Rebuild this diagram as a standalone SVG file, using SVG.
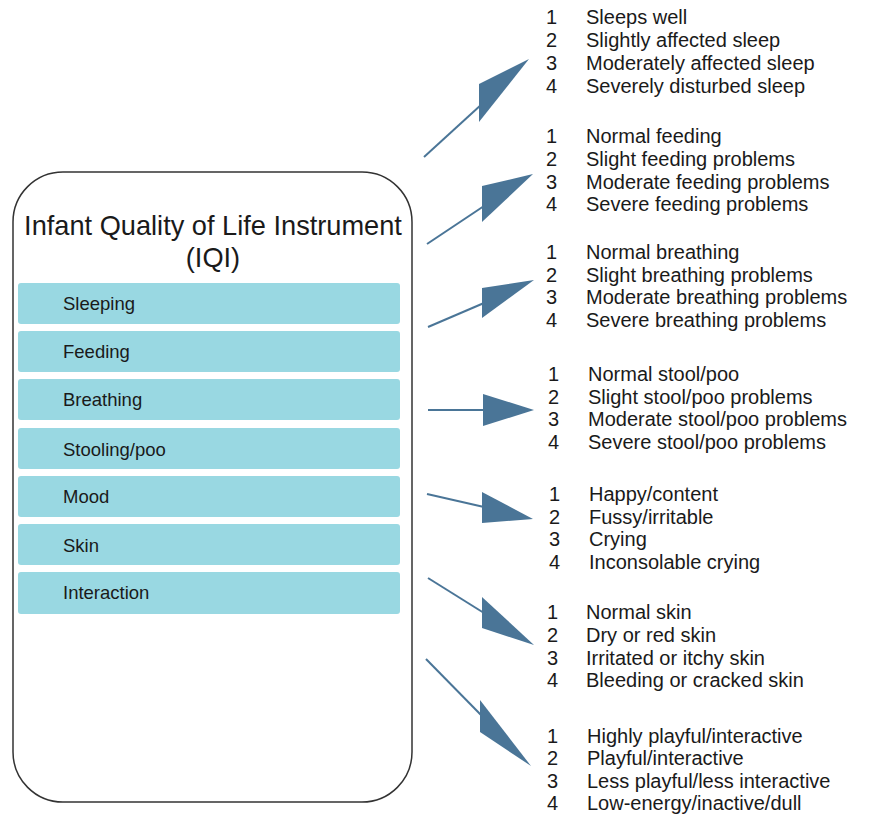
<svg xmlns="http://www.w3.org/2000/svg" width="869" height="816" viewBox="0 0 869 816">
<style>
text{font-family:"Liberation Sans",Arial,sans-serif;fill:#1a1a1a}
.t{font-size:27.2px}
.c{font-size:18.5px}
.o{font-size:20px}
.row{fill:#99d8e2}
.ln{stroke:#4a7597;stroke-width:2;fill:none}
.hd{fill:#4a7597}
</style>
<rect width="869" height="816" fill="#fff"/>
<g id="instrument">
<rect x="13" y="172" width="399" height="630" rx="50" ry="50" fill="#fff" stroke="#333" stroke-width="1.5"/>
<text class="t" x="213" y="235" text-anchor="middle">Infant Quality of Life Instrument</text>
<text class="t" x="213" y="267" text-anchor="middle">(IQI)</text>
</g>
<g id="sleeping"><rect class="row" x="18" y="283" width="382" height="41" rx="3"/><text class="c" x="63" y="310">Sleeping</text></g>
<g id="feeding"><rect class="row" x="18" y="331" width="382" height="41" rx="3"/><text class="c" x="63" y="358">Feeding</text></g>
<g id="breathing"><rect class="row" x="18" y="379" width="382" height="41" rx="3"/><text class="c" x="63" y="406">Breathing</text></g>
<g id="stooling"><rect class="row" x="18" y="428" width="382" height="41" rx="3"/><text class="c" x="63" y="456">Stooling/poo</text></g>
<g id="mood"><rect class="row" x="18" y="476" width="382" height="41" rx="3"/><text class="c" x="63" y="503">Mood</text></g>
<g id="skin"><rect class="row" x="18" y="524" width="382" height="41" rx="3"/><text class="c" x="63" y="552">Skin</text></g>
<g id="interaction"><rect class="row" x="18" y="572" width="382" height="42" rx="3"/><text class="c" x="63" y="599">Interaction</text></g>
<g id="connectors">
<line class="ln" x1="424" y1="157" x2="482" y2="104" stroke-width="1.5"/>
<polygon class="hd" points="479,84 479,122 529,59"/>
<line class="ln" x1="427" y1="244" x2="484" y2="206"/>
<polygon class="hd" points="482,186 482,222 533,174"/>
<line class="ln" x1="428" y1="327" x2="484" y2="303"/>
<polygon class="hd" points="482,288 482,318 534,280"/>
<line class="ln" x1="428" y1="410" x2="485" y2="410"/>
<polygon class="hd" points="483,394 483,426 534,410"/>
<line class="ln" x1="427" y1="494" x2="484" y2="507"/>
<polygon class="hd" points="482,492 482,523 533,519"/>
<line class="ln" x1="428" y1="578" x2="484" y2="613"/>
<polygon class="hd" points="482,597 482,628 534,645"/>
<line class="ln" x1="426" y1="659" x2="482" y2="716" stroke-width="1.5"/>
<polygon class="hd" points="480,700 480,732 531,766"/>
</g>
<g id="sleep-levels">
<text class="o" x="546" y="24">1</text><text class="o" x="586" y="24">Sleeps well</text>
<text class="o" x="546" y="47">2</text><text class="o" x="586" y="47">Slightly affected sleep</text>
<text class="o" x="546" y="70">3</text><text class="o" x="586" y="70">Moderately affected sleep</text>
<text class="o" x="546" y="93">4</text><text class="o" x="586" y="93">Severely disturbed sleep</text>
</g>
<g id="feeding-levels">
<text class="o" x="546" y="143">1</text><text class="o" x="586" y="143">Normal feeding</text>
<text class="o" x="546" y="166">2</text><text class="o" x="586" y="166">Slight feeding problems</text>
<text class="o" x="546" y="189">3</text><text class="o" x="586" y="189">Moderate feeding problems</text>
<text class="o" x="546" y="211">4</text><text class="o" x="586" y="211">Severe feeding problems</text>
</g>
<g id="breathing-levels">
<text class="o" x="546" y="259">1</text><text class="o" x="586" y="259">Normal breathing</text>
<text class="o" x="546" y="282">2</text><text class="o" x="586" y="282">Slight breathing problems</text>
<text class="o" x="546" y="304">3</text><text class="o" x="586" y="304">Moderate breathing problems</text>
<text class="o" x="546" y="327">4</text><text class="o" x="586" y="327">Severe breathing problems</text>
</g>
<g id="stool-levels">
<text class="o" x="548" y="381">1</text><text class="o" x="588" y="381">Normal stool/poo</text>
<text class="o" x="548" y="404">2</text><text class="o" x="588" y="404">Slight stool/poo problems</text>
<text class="o" x="548" y="426">3</text><text class="o" x="588" y="426">Moderate stool/poo problems</text>
<text class="o" x="548" y="449">4</text><text class="o" x="588" y="449">Severe stool/poo problems</text>
</g>
<g id="mood-levels">
<text class="o" x="549" y="501">1</text><text class="o" x="589" y="501">Happy/content</text>
<text class="o" x="549" y="524">2</text><text class="o" x="589" y="524">Fussy/irritable</text>
<text class="o" x="549" y="546">3</text><text class="o" x="589" y="546">Crying</text>
<text class="o" x="549" y="569">4</text><text class="o" x="589" y="569">Inconsolable crying</text>
</g>
<g id="skin-levels">
<text class="o" x="547" y="619">1</text><text class="o" x="586" y="619">Normal skin</text>
<text class="o" x="547" y="642">2</text><text class="o" x="586" y="642">Dry or red skin</text>
<text class="o" x="547" y="665">3</text><text class="o" x="586" y="665">Irritated or itchy skin</text>
<text class="o" x="547" y="687">4</text><text class="o" x="586" y="687">Bleeding or cracked skin</text>
</g>
<g id="interaction-levels">
<text class="o" x="547" y="743">1</text><text class="o" x="587" y="743">Highly playful/interactive</text>
<text class="o" x="547" y="765">2</text><text class="o" x="587" y="765">Playful/interactive</text>
<text class="o" x="547" y="788">3</text><text class="o" x="587" y="788">Less playful/less interactive</text>
<text class="o" x="547" y="810">4</text><text class="o" x="587" y="810">Low-energy/inactive/dull</text>
</g>
</svg>
